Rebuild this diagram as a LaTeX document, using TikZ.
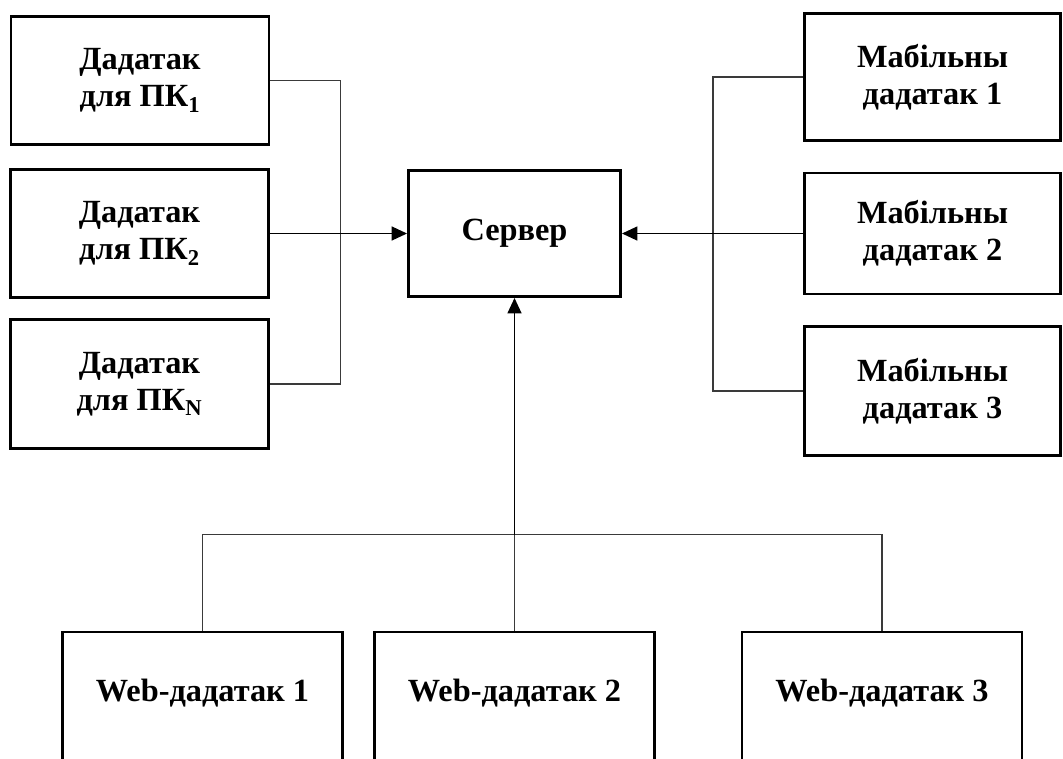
\documentclass[tikz,border=0pt]{standalone}
\usepackage{fontspec}
\setmainfont{Liberation Serif}
\usepackage{tikz}
\usetikzlibrary{arrows.meta,calc,positioning}
\definecolor{linkgray}{HTML}{3A3A3A}
\newcommand{\px}{0.025cm}
\tikzset{
  appbox/.style={draw,line width=2.1pt,align=center,inner sep=0pt,minimum width=258*\px,minimum height=128*\px,font=\fontsize{23}{26.3}\selectfont\bfseries},
  webbox/.style={appbox,minimum width=280*\px,text height=69.5*\px,text depth=95*\px,anchor=north},
  link/.style={linkgray,line width=0.8pt},
  feed/.style={-{Triangle[length=11pt,width=10pt]},black,line width=1pt}
}
\begin{document}
\begin{tikzpicture}[x=\px,y=-\px]
\useasboundingbox (0,0) rectangle (1063,758);
% desktop clients
\node[appbox] (pc1) at (140,80.5) {Дадатак\\для ПК\textsubscript{1}};
\node[appbox] (pc2) at (139.5,233.5) {Дадатак\\для ПК\textsubscript{2}};
\node[appbox,minimum height=129*\px] (pcn) at (139.5,384) {Дадатак\\для ПК\textsubscript{N}};
% server
\node[appbox,minimum width=212*\px,minimum height=126*\px] (server) at (514.5,233.5) {Сервер};
% mobile clients
\node[appbox,minimum width=256*\px,minimum height=127*\px] (mob1) at (932.5,77) {Мабільны\\дадатак 1};
\node[appbox,minimum width=256*\px,minimum height=121*\px] (mob2) at (932.5,233.5) {Мабільны\\дадатак 2};
\node[appbox,minimum width=256*\px,minimum height=129*\px] (mob3) at (932.5,391) {Мабільны\\дадатак 3};
% web clients
\node[webbox] (web1) at (202.5,630.5) {Web-дадатак 1};
\node[webbox] (web2) at (514.5,630.5) {Web-дадатак 2};
\node[webbox] (web3) at (882,630.5) {Web-дадатак 3};
% connectors
\draw[link] (pc1.east) -- ++(70,0) |- (pcn.east);
\draw[feed] (pc2.east) -- (server.west);
\draw[link] (mob1.west) -- ++(-90,0) |- (mob3.west);
\draw[feed] (mob2.west) -- (server.east);
\draw[link] (web1.north) -- ++(0,-96) coordinate (bus) -| (web3.north);
\draw[link] (web2.north) -- (web2.north |- bus) coordinate (hub);
\draw[feed] (hub) -- (server.south);
\end{tikzpicture}
\end{document}
